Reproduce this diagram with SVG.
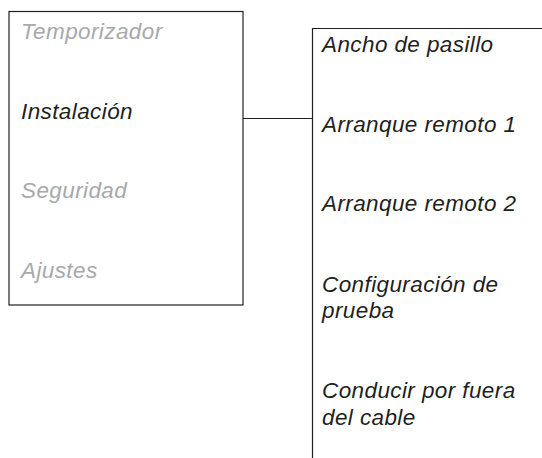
<svg xmlns="http://www.w3.org/2000/svg" width="542" height="458" viewBox="0 0 542 458">
<style>
.t{font-family:"Liberation Sans",Arial,sans-serif;font-style:italic;font-size:22.5px;letter-spacing:0.4px;fill:#231f20}
.g{fill:#a7a9ac}
.ln{fill:none;stroke:#231f20;stroke-width:1.2}
</style>
<rect width="542" height="458" fill="#fff"/>
<g id="menu">
<rect class="ln" x="9" y="11.5" width="234" height="293.5"/>
<text class="t g" x="21" y="38.5">Temporizador</text>
<text class="t" x="21" y="118.5">Instalación</text>
<text class="t g" x="21" y="197.5">Seguridad</text>
<text class="t g" x="21" y="277.5">Ajustes</text>
</g>
<g id="submenu">
<path class="ln" d="M542 28.5H312.5V458"/>
<text class="t" x="322" y="52">Ancho de pasillo</text>
<text class="t" x="322" y="132">Arranque remoto 1</text>
<text class="t" x="322" y="211">Arranque remoto 2</text>
<text class="t" x="322" y="291.5">Configuración de</text>
<text class="t" x="322" y="318">prueba</text>
<text class="t" x="322" y="397.5">Conducir por fuera</text>
<text class="t" x="322" y="424.5">del cable</text>
</g>
<g id="connectors">
<path class="ln" d="M243 118.5H312.5"/>
</g>
</svg>
